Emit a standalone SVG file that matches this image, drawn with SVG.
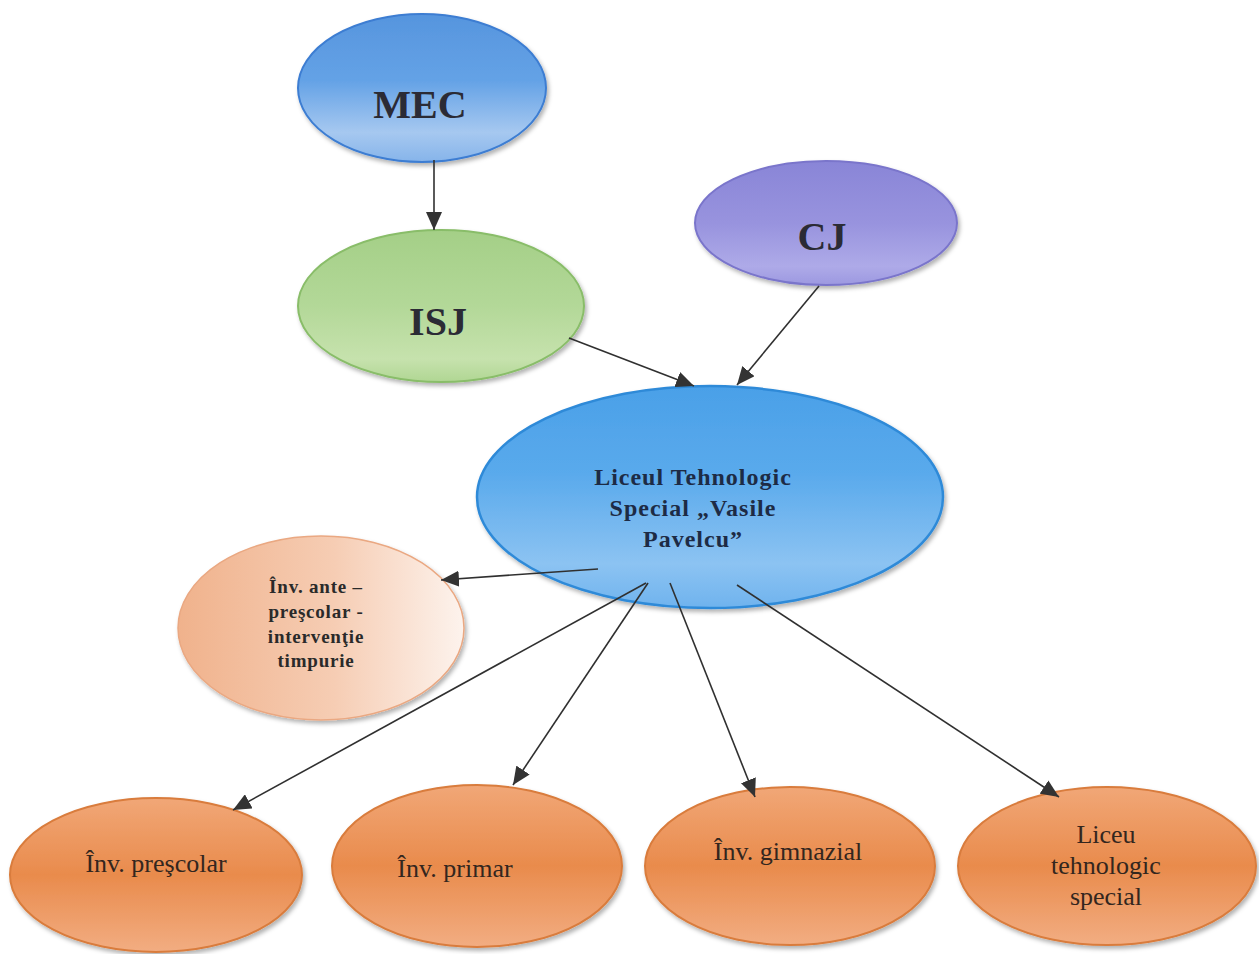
<svg xmlns="http://www.w3.org/2000/svg" width="1259" height="954" viewBox="0 0 1259 954">
<style>
.title{font-family:"Liberation Serif","Times New Roman",serif;font-weight:bold;fill:#2b2b35;text-anchor:middle}
.ctext{font-family:"Liberation Serif","Times New Roman",serif;font-weight:bold;fill:#1d2b45;text-anchor:middle;font-size:24px;letter-spacing:1px}
.ptext{font-family:"Liberation Serif","Times New Roman",serif;font-weight:bold;fill:#2a2a2a;text-anchor:middle;font-size:19px;letter-spacing:0.8px}
.otext{font-family:"Liberation Serif","Times New Roman",serif;fill:#33261e;text-anchor:middle;font-size:26px}
.conn{stroke:#303030;stroke-width:1.6;fill:none;marker-end:url(#arr)}
</style>
<defs>
<marker id="arr" markerUnits="userSpaceOnUse" markerWidth="20" markerHeight="16" refX="18" refY="8" orient="auto">
<path d="M0,0 L18,8 L0,16 Z" fill="#333"/>
</marker>
<filter id="sh" x="-10%" y="-10%" width="125%" height="130%">
<feDropShadow dx="2" dy="3" stdDeviation="2" flood-color="#000" flood-opacity="0.3"/>
</filter>
<linearGradient id="gBlue" x1="0" y1="0" x2="0" y2="1">
<stop offset="0" stop-color="#5695de"/>
<stop offset="0.45" stop-color="#64a2e6"/>
<stop offset="0.8" stop-color="#a6c8f0"/>
<stop offset="1" stop-color="#86b4ea"/>
</linearGradient>
<linearGradient id="gCentral" x1="0" y1="0" x2="0" y2="1">
<stop offset="0" stop-color="#4aa0e8"/>
<stop offset="0.4" stop-color="#5aaaec"/>
<stop offset="0.8" stop-color="#8cc3f2"/>
<stop offset="1" stop-color="#6fb3ee"/>
</linearGradient>
<linearGradient id="gGreen" x1="0" y1="0" x2="0" y2="1">
<stop offset="0" stop-color="#a4cf87"/>
<stop offset="0.5" stop-color="#b3d898"/>
<stop offset="0.85" stop-color="#c6e2ad"/>
<stop offset="1" stop-color="#b0d693"/>
</linearGradient>
<linearGradient id="gPurple" x1="0" y1="0" x2="0" y2="1">
<stop offset="0" stop-color="#8985d7"/>
<stop offset="0.5" stop-color="#9893de"/>
<stop offset="0.85" stop-color="#aeaae8"/>
<stop offset="1" stop-color="#9c98e0"/>
</linearGradient>
<linearGradient id="gOrange" x1="0" y1="0" x2="0" y2="1">
<stop offset="0" stop-color="#f1a777"/>
<stop offset="0.5" stop-color="#e98b4c"/>
<stop offset="1" stop-color="#f2ad82"/>
</linearGradient>
<linearGradient id="gPeach" x1="0" y1="0" x2="1" y2="0">
<stop offset="0" stop-color="#f0b28c"/>
<stop offset="0.55" stop-color="#f6cdb4"/>
<stop offset="1" stop-color="#fdf3ed"/>
</linearGradient>
</defs>
<rect width="1259" height="954" fill="#ffffff"/>

<g id="node-mec">
<ellipse cx="422" cy="88" rx="124" ry="74" fill="url(#gBlue)" stroke="#3c7dd2" stroke-width="2" filter="url(#sh)"/>
<text class="title" x="420" y="118" font-size="40">MEC</text>
</g>

<g id="node-isj">
<ellipse cx="441" cy="306" rx="143" ry="76" fill="url(#gGreen)" stroke="#89bd69" stroke-width="2" filter="url(#sh)"/>
<text class="title" x="438" y="335" font-size="40">ISJ</text>
</g>

<g id="node-cj">
<ellipse cx="826" cy="223" rx="131" ry="62" fill="url(#gPurple)" stroke="#7a75cb" stroke-width="2" filter="url(#sh)"/>
<text class="title" x="822" y="250" font-size="40">CJ</text>
</g>

<g id="node-liceul">
<ellipse cx="710" cy="497" rx="233" ry="111" fill="url(#gCentral)" stroke="#2f8ad8" stroke-width="2.5" filter="url(#sh)"/>
<text class="ctext" x="693" y="485">Liceul Tehnologic</text>
<text class="ctext" x="693" y="516">Special „Vasile</text>
<text class="ctext" x="693" y="547">Pavelcu”</text>
</g>

<g id="node-ante">
<ellipse cx="321" cy="628" rx="143" ry="92" fill="url(#gPeach)" stroke="#eaa882" stroke-width="1.5" filter="url(#sh)"/>
<text class="ptext" x="316" y="593">Înv. ante –</text>
<text class="ptext" x="316" y="618">preşcolar -</text>
<text class="ptext" x="316" y="643">intervenţie</text>
<text class="ptext" x="316" y="667">timpurie</text>
</g>

<g id="node-prescolar">
<ellipse cx="156" cy="875" rx="146" ry="77" fill="url(#gOrange)" stroke="#d97c3c" stroke-width="2" filter="url(#sh)"/>
<text class="otext" x="156" y="872">Înv. preşcolar</text>
</g>

<g id="node-primar">
<ellipse cx="477" cy="866" rx="145" ry="81" fill="url(#gOrange)" stroke="#d97c3c" stroke-width="2" filter="url(#sh)"/>
<text class="otext" x="455" y="877">Înv. primar</text>
</g>

<g id="node-gimnazial">
<ellipse cx="790" cy="866" rx="145" ry="79" fill="url(#gOrange)" stroke="#d97c3c" stroke-width="2" filter="url(#sh)"/>
<text class="otext" x="788" y="860">Înv. gimnazial</text>
</g>

<g id="node-liceu">
<ellipse cx="1107" cy="866" rx="149" ry="79" fill="url(#gOrange)" stroke="#d97c3c" stroke-width="2" filter="url(#sh)"/>
<text class="otext" x="1106" y="843">Liceu</text>
<text class="otext" x="1106" y="874">tehnologic</text>
<text class="otext" x="1106" y="905">special</text>
</g>

<g id="connectors">
<line class="conn" x1="434" y1="160" x2="434" y2="230"/>
<line class="conn" x1="569" y1="338" x2="694" y2="386"/>
<line class="conn" x1="819" y1="286" x2="737" y2="385"/>
<line class="conn" x1="598" y1="569" x2="441" y2="580"/>
<line class="conn" x1="646" y1="583" x2="233" y2="810"/>
<line class="conn" x1="648" y1="583" x2="513" y2="785"/>
<line class="conn" x1="670" y1="583" x2="755" y2="797"/>
<line class="conn" x1="737" y1="585" x2="1059" y2="797"/>
</g>
</svg>
